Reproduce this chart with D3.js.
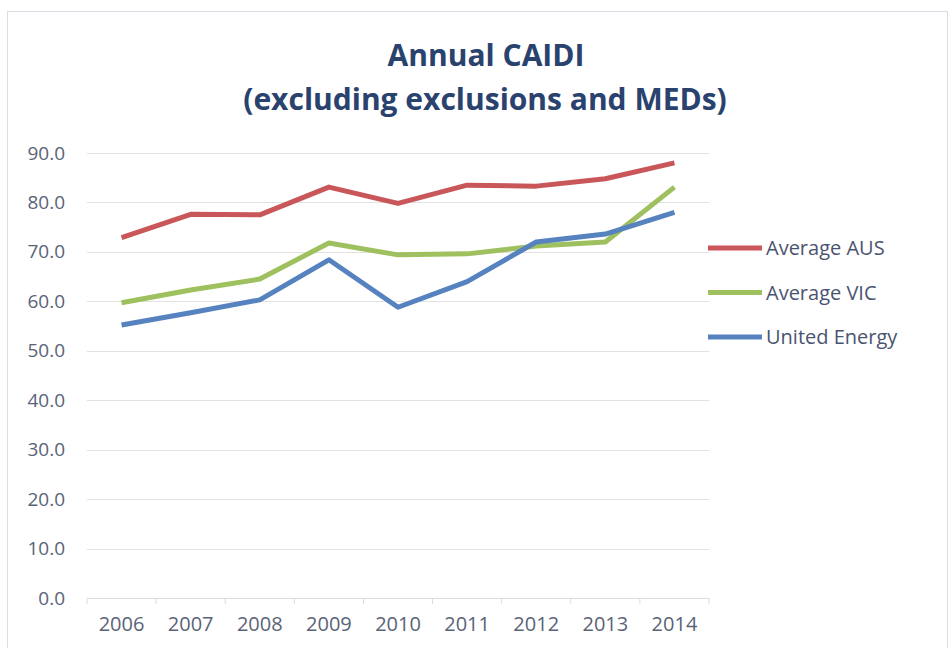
<!DOCTYPE html>
<html>
<head>
<meta charset="utf-8">
<script src="https://cdn.jsdelivr.net/npm/d3@7"></script>
<style>
  body { margin: 0; background: #fff; }
  svg { display: block; font-family: "Open Sans", Lato, sans-serif; }
</style>
</head>
<body>
<div id="chart"></div>
<script>
// data
var years = ["2006", "2007", "2008", "2009", "2010", "2011", "2012", "2013", "2014"];
var avgAus = [72.9, 77.6, 77.5, 83.1, 79.8, 83.5, 83.3, 84.8, 88.0];
var avgVic = [59.7, 62.3, 64.5, 71.8, 69.4, 69.6, 71.2, 72.0, 83.1];
var unitedEnergy = [55.2, 57.7, 60.3, 68.4, 58.8, 64.0, 72.0, 73.6, 78.0];
var seriesNames = ["Average AUS", "Average VIC", "United Energy"];
var seriesColors = ["#c9575a", "#9fc05e", "#5683bf"];
var yTicks = [0, 10, 20, 30, 40, 50, 60, 70, 80, 90];

var width = 952, height = 648;
var plot = {left: 87, right: 709, top: 153, bottom: 598};
var font = "'Open Sans', Lato, sans-serif";

var svg = d3.select("#chart").append("svg")
    .attr("width", width)
    .attr("height", height);

// chart frame
svg.append("rect")
    .attr("x", 7.5).attr("y", 11.5)
    .attr("width", 940).attr("height", 660)
    .attr("fill", "#fff")
    .attr("stroke", "#d9dde6");

var x = d3.scaleBand().domain(years).range([plot.left, plot.right]);
var y = d3.scaleLinear().domain([0, 90]).range([plot.bottom, plot.top]);

// title
var title = svg.append("text")
    .attr("text-anchor", "middle")
    .attr("fill", "#2a426e")
    .style("font-weight", "bold")
    .style("font-size", "30px");
title.append("tspan").attr("x", 486).attr("y", 66).text("Annual CAIDI");
title.append("tspan").attr("x", 485).attr("y", 110).text("(excluding exclusions and MEDs)");

// gridlines
svg.append("g")
    .selectAll("line")
    .data(yTicks.slice(1))
    .enter()
    .append("line")
    .attr("x1", plot.left).attr("x2", plot.right)
    .attr("y1", function(d) { return Math.round(y(d)) + 0.5; })
    .attr("y2", function(d) { return Math.round(y(d)) + 0.5; })
    .attr("stroke", "#e2e2e2");

// y axis
var yAxis = svg.append("g")
    .attr("transform", "translate(" + (plot.left - 19) + ",0)")
    .call(d3.axisLeft(y).tickValues(yTicks).tickFormat(d3.format(".1f")).tickSize(0));
yAxis.select(".domain").remove();
yAxis.selectAll("text")
    .attr("fill", "#5a6378")
    .style("font-size", "19px")
    .style("font-family", font);

// x axis
var xAxis = svg.append("g")
    .attr("transform", "translate(0," + plot.bottom + ")")
    .call(d3.axisBottom(x).tickSize(0).tickPadding(19));
xAxis.select(".domain").attr("stroke", "#dcdcdc");
xAxis.selectAll("text")
    .attr("fill", "#5a6378")
    .style("font-size", "20px")
    .style("font-family", font);
xAxis.selectAll(".cat-tick")
    .data(years.concat(["end"]))
    .enter()
    .append("line")
    .attr("class", "cat-tick")
    .attr("x1", function(d, i) { return plot.left + i * x.step(); })
    .attr("x2", function(d, i) { return plot.left + i * x.step(); })
    .attr("y1", 0).attr("y2", 6)
    .attr("stroke", "#dcdcdc");

// lines
var series = [avgAus, avgVic, unitedEnergy];
var line = d3.line()
    .x(function(d, i) { return x(years[i]) + x.bandwidth() / 2; })
    .y(function(d) { return y(d); });

svg.append("g")
    .selectAll("path")
    .data(series)
    .enter()
    .append("path")
    .attr("d", line)
    .attr("fill", "none")
    .attr("stroke", function(d, i) { return seriesColors[i]; })
    .attr("stroke-width", 5)
    .attr("stroke-linejoin", "round");

// legend
var legend = svg.append("g")
    .selectAll("g")
    .data(seriesNames)
    .enter()
    .append("g")
    .attr("transform", function(d, i) { return "translate(708," + (248 + i * 44.5) + ")"; });
legend.append("line")
    .attr("x1", 0).attr("x2", 54)
    .attr("stroke", function(d, i) { return seriesColors[i]; })
    .attr("stroke-width", 5);
legend.append("text")
    .attr("x", 58)
    .attr("dy", "0.35em")
    .attr("fill", "#4a5470")
    .style("font-size", "20px")
    .text(function(d) { return d; });
</script>
</body>
</html>
